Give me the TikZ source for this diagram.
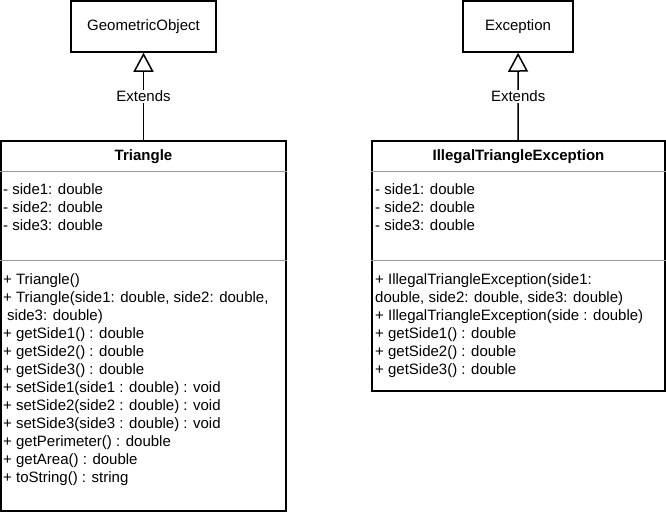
\documentclass[tikz,border=0pt]{standalone}
\usepackage{fontspec}
\setmainfont{Liberation Sans}
\usetikzlibrary{arrows.meta,calc,positioning}

\begin{document}
\begin{tikzpicture}[
    x=1pt, y=-1pt,
    font=\fontsize{15}{18}\selectfont,
    box/.style={draw,line width=1.5pt,inner sep=0pt},
    sep/.style={draw=black!40,line width=1pt},
    member/.style={anchor=base west,inner sep=0pt},
    title/.style={anchor=base,inner sep=0pt,font=\fontsize{15}{18}\selectfont\bfseries},
    extends/.style={line width=1.5pt,-{Triangle[open,length=19pt,width=20pt]}},
    lbl/.style={fill=white,inner sep=1pt}
]
    \useasboundingbox (0,0) rectangle (666,512);
    \node[box,minimum width=145pt,minimum height=51pt] (geo) at (143.5,26.5) {GeometricObject};
    \node[box,minimum width=110pt,minimum height=51pt] (exc) at (518,26.5) {Exception};
    \node[box,minimum width=285pt,minimum height=370pt] (tri) at (143.5,326) {};
    \node[box,minimum width=293pt,minimum height=250pt] (ill) at (518.5,266) {};
    \node[title] (tri-name) at (143.5,160) {Triangle};
    \node[title] (ill-name) at (518.5,160) {IllegalTriangleException};
    \draw[sep] ([yshift=-31pt]tri.north west) -- ([yshift=-31pt]tri.north east);
    \draw[sep] ([yshift=-120pt]tri.north west) -- ([yshift=-120pt]tri.north east);
    \draw[sep] ([yshift=-31pt]ill.north west) -- ([yshift=-31pt]ill.north east);
    \draw[sep] ([yshift=-120pt]ill.north west) -- ([yshift=-120pt]ill.north east);
    \foreach \t [count=\i] in {- side1: double, - side2: double, - side3: double}{
        \node[member] (tri-a\i) at (3,176+18*\i) {\t};
        \node[member] (ill-a\i) at (375,176+18*\i) {\t};
    }
    \foreach \t [count=\i] in {+ Triangle(), {+ Triangle(side1: double, side2: double,}, {\hspace{4pt}side3: double)},
        + getSide1() : double, + getSide2() : double, + getSide3() : double,
        + setSide1(side1 : double) : void, + setSide2(side2 : double) : void, + setSide3(side3 : double) : void,
        + getPerimeter() : double, + getArea() : double, + toString() : string}
        \node[member] (tri-m\i) at (3,266+18*\i) {\t};
    \foreach \t [count=\i] in {+ IllegalTriangleException(side1:, {double, side2: double, side3: double)},
        + IllegalTriangleException(side : double), + getSide1() : double, + getSide2() : double, + getSide3() : double}
        \node[member] (ill-m\i) at (375,266+18*\i) {\t};
    \draw[extends] (tri) -- node[lbl] (tri-ext) {Extends} (geo);
    \draw[extends] (ill) -- node[lbl] (ill-ext) {Extends} (exc);
\end{tikzpicture}
\end{document}
